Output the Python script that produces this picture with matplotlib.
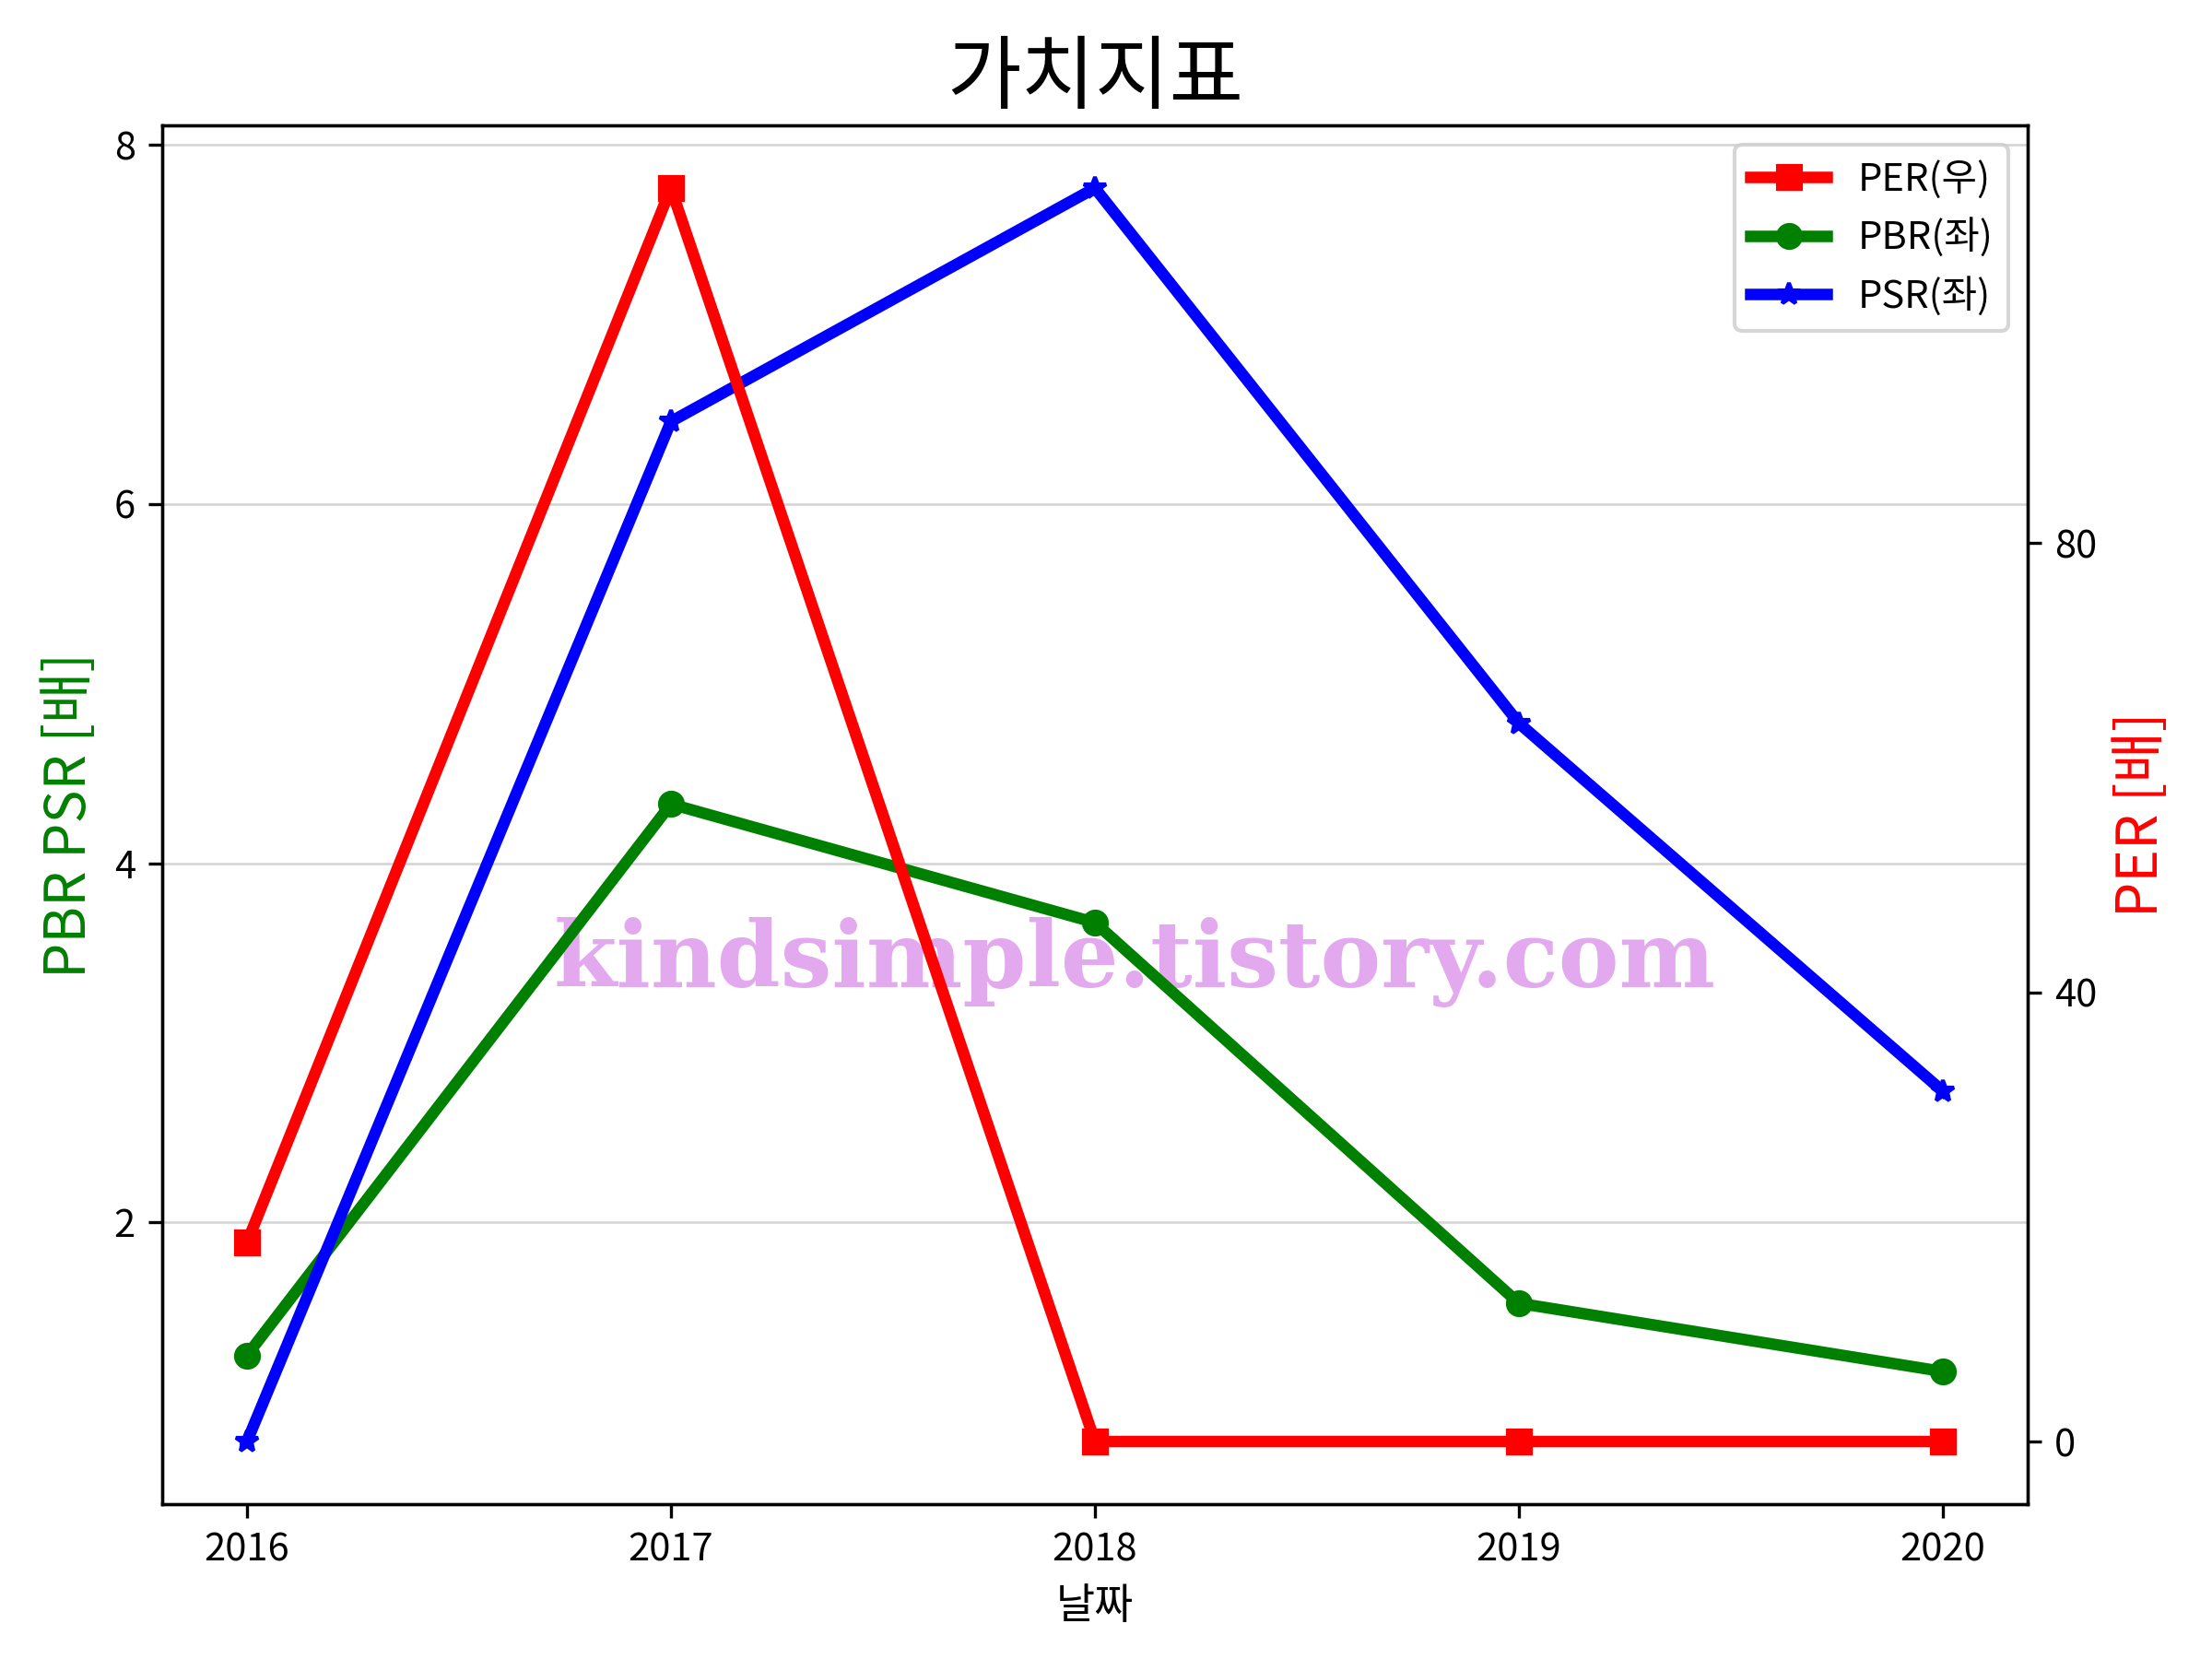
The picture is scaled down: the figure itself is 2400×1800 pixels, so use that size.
import matplotlib
matplotlib.use("Agg")
import matplotlib.pyplot as plt

plt.rcParams['font.family'] = ['Noto Sans CJK KR', 'DejaVu Sans']
plt.rcParams['axes.unicode_minus'] = False

years = [2016, 2017, 2018, 2019, 2020]
per = [17.7, 111.6, 0.0, 0.0, 0.0]
pbr = [1.26, 4.33, 3.67, 1.55, 1.17]
psr = [0.78, 6.46, 7.76, 4.78, 2.73]
left_ticks = [2, 4, 6, 8]
right_ticks = [0, 40, 80]

fig = plt.figure(figsize=(8, 6), dpi=300)
ax = fig.add_axes([0.0733, 0.0933, 0.8434, 0.8311])
ax2 = ax.twinx()

l2, = ax.plot(years, pbr, color='green', marker='o', linewidth=3, label='PBR(좌)', zorder=2)
l3, = ax.plot(years, psr, color='blue', marker='*', linewidth=3, label='PSR(좌)', zorder=2)
l1, = ax2.plot(years, per, color='red', marker='s', linewidth=3, label='PER(우)', zorder=2)

ax.set_xticks(years)
ax.set_xticklabels([str(y) for y in years])
ax.set_yticks(left_ticks)
ax2.set_yticks(right_ticks)
ax.grid(axis='y', color='lightgray', linewidth=0.6)

ax.set_xlabel('날짜', fontsize=11)
ax.set_ylabel('PBR PSR [배]', color='green', fontsize=14.5)
ax2.set_ylabel('PER [배]', color='red', fontsize=14.5)
ax.set_title('가치지표', fontsize=21)

ax2.legend([l1, l2, l3], [l1.get_label(), l2.get_label(), l3.get_label()],
           loc='upper right', fontsize=10)

ax.text(0.513, 0.42, 'kindsimple.tistory.com', transform=fig.transFigure,
        ha='center', va='center', fontsize=23.7, fontweight='bold',
        family='DejaVu Serif', color='#E3A9EE', zorder=0.5)

fig.savefig('out.png', dpi=300)
